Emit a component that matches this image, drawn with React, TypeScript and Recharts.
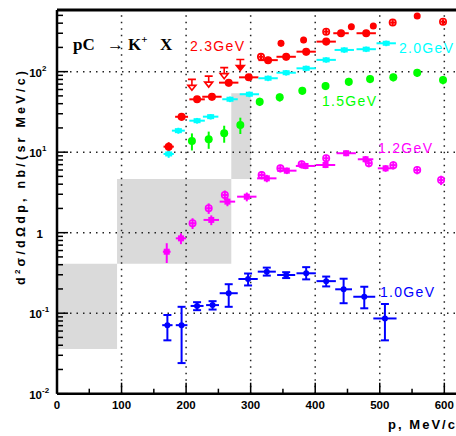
import React from "react";
import { ScatterChart, Scatter, XAxis, YAxis, ErrorBar, ReferenceArea, ReferenceLine } from "recharts";

const W = 456;
const H = 436;

const RED = "#ff0000";
const CYAN = "#00ffff";
const GREEN = "#00ff00";
const MAGENTA = "#ff00ff";
const BLUE = "#0000ff";
const BAND = "#dadada";

// 1.0 GeV
const p10 = [171, 193, 217, 241, 266, 296, 325, 355, 386, 417, 444, 476, 508];
const s10 = [0.071, 0.071, 0.123, 0.126, 0.177, 0.266, 0.328, 0.298, 0.313, 0.25, 0.198, 0.16, 0.086];
const dp10 = [8, 9, 10, 10, 14, 15, 14, 14, 15, 15, 13, 17, 18];
const lo10 = [0.025, 0.047, 0.014, 0.015, 0.057, 0.045, 0.035, 0.025, 0.05, 0.035, 0.065, 0.045, 0.04];
const hi10 = [0.024, 0.049, 0.014, 0.015, 0.052, 0.045, 0.04, 0.025, 0.06, 0.035, 0.07, 0.053, 0.044];

// 1.2 GeV, two data sets
const p12 = [170, 192, 239, 264, 294, 325, 356, 385, 416, 448, 478, 509];
const s12 = [0.58, 0.85, 1.44, 2.43, 2.8, 4.73, 5.89, 6.74, 6.93, 9.7, 8.16, 6.3];
const dp12 = [6, 8, 12, 12, 15, 15, 15, 15, 15, 15, 12, 12];
const ds12 = [0.16, 0.13, 0.2, 0.3, 0.35, 0.5, 0.55, 0.6, 0.6, 0.8, 0.8, 0.6];
const p12o = [210, 235, 260, 317, 346, 379, 417, 483, 521, 558, 595];
const s12o = [1.31, 2.01, 2.94, 5.2, 6.3, 7.07, 8.4, 7.3, 6.9, 6.0, 4.5];
const dp12o = [4, 4, 4, 4, 4, 4, 4, 4, 4, 4, 4];
const ds12o = [0.2, 0.3, 0.4, 0.6, 0.7, 0.8, 0.9, 0.8, 0.8, 0.7, 0.6];

// 1.5 GeV
const p15 = [209, 235, 259, 284, 314, 345, 380, 416, 452, 485, 521, 558, 598];
const s15 = [13.8, 14.5, 17.2, 21.8, 42.4, 48, 58.1, 66.5, 75.1, 81, 85, 97, 78.6];
const dp15 = [4, 4, 4, 4, 5, 5, 5, 5, 5, 5, 5, 5, 5];
const ds15 = [3.3, 3.5, 4.1, 5.0, 5, 5.5, 6.5, 7.5, 8.5, 9, 9.5, 11, 9];

// 2.0 GeV
const p20 = [173, 188, 217, 238, 268, 298, 327, 355, 386, 417, 445, 479, 510];
const s20 = [9.5, 18.5, 24.6, 27.6, 45.4, 52.4, 82.8, 97, 110, 140, 186, 190, 225];
const dp20 = [8, 10, 12, 12, 12, 15, 15, 15, 15, 15, 15, 15, 15];
const ds20 = [1.0, 1.6, 2.0, 2.2, 3.6, 4.2, 6.6, 7.8, 8.8, 11, 15, 15, 18];

// 2.3 GeV: main set, second set, open points and upper limits
const p23 = [173, 193, 217, 240, 266, 297, 327, 355, 386, 417, 440, 479];
const s23 = [11.7, 27.5, 45.3, 48.8, 73, 85, 139, 153, 177, 236, 300, 300];
const dp23 = [8, 10, 12, 15, 15, 15, 15, 15, 15, 15, 12, 15];
const ds23 = [1.6, 3.0, 4.5, 5.0, 7.5, 8.5, 14, 15, 18, 24, 30, 30];
const p23b = [347, 382, 456, 490, 558];
const s23b = [225, 248, 362, 370, 491];
const dp23b = [4, 4, 4, 4, 4];
const ds23b = [20, 22, 30, 30, 40];
const p23c = [316, 417, 520, 598];
const s23c = [153, 314, 407, 418];
const dp23c = [4, 4, 4, 4];
const ds23c = [12, 25, 30, 30];
const p23u = [209, 235, 259];
const s23u = [71.6, 78.5, 100];
const p23uf = [284];
const s23uf = [126];

// systematic bands
const bands = [
  { x1: 0, x2: 93, y1: 0.036, y2: 0.41 },
  { x1: 93, x2: 270, y1: 0.41, y2: 4.65 },
  { x1: 270, x2: 300, y1: 4.65, y2: 54 },
];

const X_MAX = 618.1;
const Y_MIN = 0.01;
const Y_MAX = 583;
const X_TICKS = [0, 50, 100, 150, 200, 250, 300, 350, 400, 450, 500, 550, 600];
const X_GRID = [100, 200, 300, 400, 500, 600];
const DECADES = [0.01, 0.1, 1, 10, 100];
const Y_GRID = [0.1, 1, 10, 100];
const Y_TICKS = DECADES.flatMap((d) => [1, 2, 3, 4, 5, 6, 7, 8, 9].map((k) => +(d * k).toPrecision(3))).filter(
  (v) => v <= Y_MAX
);

type Row = { p: number; s: number; dp: number; ds: [number, number] };

function rows(p: number[], s: number[], dp: number[], lo: number[], hi: number[]): Row[] {
  return p.map((v, i) => ({ p: v, s: s[i], dp: dp[i], ds: [lo[i], hi[i]] }));
}

function points(p: number[], s: number[]) {
  return p.map((v, i) => ({ p: v, s: s[i] }));
}

const FONT = "'Liberation Sans', Arial, sans-serif";

function XTick({ x, y, payload }: any) {
  const major = payload.value % 100 === 0;
  return (
    <g>
      <line x1={x} x2={x} y1={y} y2={y - (major ? 11 : 5)} stroke="#000" strokeWidth={1.5} />
      {major && (
        <text x={x} y={y + 15.5} textAnchor="middle" fontFamily={FONT} fontWeight="bold" fontSize={11.5} fill="#000">
          {payload.value}
        </text>
      )}
    </g>
  );
}

function YTick({ x, y, payload }: any) {
  const lg = Math.log10(payload.value);
  const e = Math.round(lg);
  const major = Math.abs(lg - e) < 1e-6;
  return (
    <g>
      <line x1={x} x2={x + (major ? 11 : 6)} y1={y} y2={y} stroke="#000" strokeWidth={1.5} />
      {major &&
        (e === 0 ? (
          <text x={x - 14} y={y + 5} textAnchor="end" fontFamily={FONT} fontWeight="bold" fontSize={11.5} fill="#000">
            1
          </text>
        ) : (
          <g fontFamily={FONT} fontWeight="bold" fill="#000">
            <text x={x - 15} y={y + 5} textAnchor="end" fontSize={11.5}>
              10
            </text>
            <text x={x - 15} y={y - 1} fontSize={8}>
              {e}
            </text>
          </g>
        ))}
    </g>
  );
}

const dot = (r: number, color: string, open = false) => (props: any) => (
  <circle cx={props.cx} cy={props.cy} r={r} fill={open ? "none" : color} stroke={color} strokeWidth={open ? 1.6 : 0} />
);

const square = (w: number, h: number, color: string) => (props: any) => (
  <rect x={props.cx - w / 2} y={props.cy - h / 2} width={w} height={h} fill={color} />
);

// downward arrow for upper limits
const limit = (open: boolean) => (props: any) => {
  const { cx, cy } = props;
  return (
    <g stroke={RED} strokeWidth={1.6}>
      <line x1={cx - 4} x2={cx + 4} y1={cy - 4} y2={cy - 4} />
      <line x1={cx} x2={cx} y1={cy - 4} y2={cy + 3} />
      <path d={`M${cx - 4},${cy + 2} L${cx + 4},${cy + 2} L${cx},${cy + 7} Z`} fill={open ? "#fff" : RED} />
    </g>
  );
};

const series = [
  { key: "c23a", data: rows(p23, s23, dp23, ds23, ds23), color: RED, shape: dot(4, RED) },
  { key: "c23b", data: rows(p23b, s23b, dp23b, ds23b, ds23b), color: RED, shape: dot(3.5, RED) },
  { key: "c23c", data: rows(p23c, s23c, dp23c, ds23c, ds23c), color: RED, shape: dot(3.2, RED, true) },
  { key: "c20", data: rows(p20, s20, dp20, ds20, ds20), color: CYAN, shape: square(7, 5, CYAN) },
  { key: "c15", data: rows(p15, s15, dp15, ds15, ds15), color: GREEN, shape: dot(4, GREEN) },
  { key: "c12", data: rows(p12, s12, dp12, ds12, ds12), color: MAGENTA, shape: square(6, 6, MAGENTA) },
  { key: "c12o", data: rows(p12o, s12o, dp12o, ds12o, ds12o), color: MAGENTA, shape: dot(3.2, MAGENTA, true) },
  { key: "c10", data: rows(p10, s10, dp10, lo10, hi10), color: BLUE, shape: dot(3, BLUE) },
];

const energyLabels = [
  { text: "2.3GeV", x: 190, y: 51, color: RED },
  { text: "2.0GeV", x: 399, y: 53, color: CYAN },
  { text: "1.5GeV", x: 322, y: 106, color: GREEN },
  { text: "1.2GeV", x: 378, y: 153, color: MAGENTA },
  { text: "1.0GeV", x: 380, y: 297, color: BLUE },
];

export default function App() {
  // pinned to the page corner so the full canvas fits without scrollbars
  return (
    <div style={{ position: "absolute", left: 0, top: 0, width: W, height: H }}>
      <ScatterChart width={W} height={H} margin={{ top: 10, right: 0, bottom: 0, left: 0 }}>
        <XAxis
          type="number"
          dataKey="p"
          domain={[0, X_MAX]}
          ticks={X_TICKS}
          interval={0}
          allowDataOverflow
          height={42.3}
          tickSize={0}
          tickMargin={0}
          tickLine={false}
          tick={<XTick />}
          axisLine={{ stroke: "#000", strokeWidth: 2.5 }}
        />
        <YAxis
          type="number"
          dataKey="s"
          scale="log"
          domain={[Y_MIN, Y_MAX]}
          ticks={Y_TICKS}
          interval={0}
          allowDataOverflow
          width={57}
          tickSize={0}
          tickMargin={0}
          tickLine={false}
          tick={<YTick />}
          axisLine={{ stroke: "#000", strokeWidth: 2.5 }}
        />
        {bands.map((b, i) => (
          <ReferenceArea key={i} {...b} fill={BAND} fillOpacity={1} stroke="none" />
        ))}
        {X_GRID.map((x) => (
          <ReferenceLine key={"gx" + x} x={x} stroke="#222" strokeWidth={1.5} strokeDasharray="1.5 5" />
        ))}
        {Y_GRID.map((y) => (
          <ReferenceLine key={"gy" + y} y={y} stroke="#222" strokeWidth={1.5} strokeDasharray="1.5 5" />
        ))}
        <ReferenceLine y={Y_MAX} stroke="#000" strokeWidth={3} />
        {series.map((sr) => (
          <Scatter key={sr.key} data={sr.data} shape={sr.shape} isAnimationActive={false}>
            <ErrorBar dataKey="dp" direction="x" width={0} stroke={sr.color} strokeWidth={2} />
            <ErrorBar dataKey="ds" direction="y" width={sr.key === "c10" ? 4 : 0} stroke={sr.color} strokeWidth={2} />
          </Scatter>
        ))}
        <Scatter data={points(p23u, s23u)} shape={limit(true)} isAnimationActive={false} />
        <Scatter data={points(p23uf, s23uf)} shape={limit(false)} isAnimationActive={false} />
      </ScatterChart>
      <svg width={W} height={H} style={{ position: "absolute", left: 0, top: 0, pointerEvents: "none" }}>
        <text y={50} fontFamily="'Liberation Serif', 'Times New Roman', serif" fontWeight="bold" fontSize={17} fill="#000">
          <tspan x={73}>pC</tspan>
          <tspan x={107}>→</tspan>
          <tspan x={128}>K</tspan>
          <tspan dy={-7} fontSize={11}>+</tspan>
          <tspan x={160} dy={7}>X</tspan>
        </text>
        {energyLabels.map((l) => (
          <text key={l.text} x={l.x} y={l.y} fill={l.color} fontFamily={FONT} fontSize={14} letterSpacing={1.3}>
            {l.text}
          </text>
        ))}
        <text
          transform="rotate(-90)"
          x={-178}
          y={25}
          textAnchor="middle"
          fontFamily={FONT}
          fontWeight="bold"
          fontSize={12.5}
          fill="#000"
          textLength={214}
          lengthAdjust="spacing"
        >
          d<tspan dy={-5} fontSize={8}>2</tspan>
          <tspan dy={5}>σ/dΩdp, nb/(sr MeV/c)</tspan>
        </text>
        <text x={388} y={429} fontFamily={FONT} fontWeight="bold" fontSize={13} fill="#000" textLength={67} lengthAdjust="spacing">
          p, MeV/c
        </text>
      </svg>
    </div>
  );
}
